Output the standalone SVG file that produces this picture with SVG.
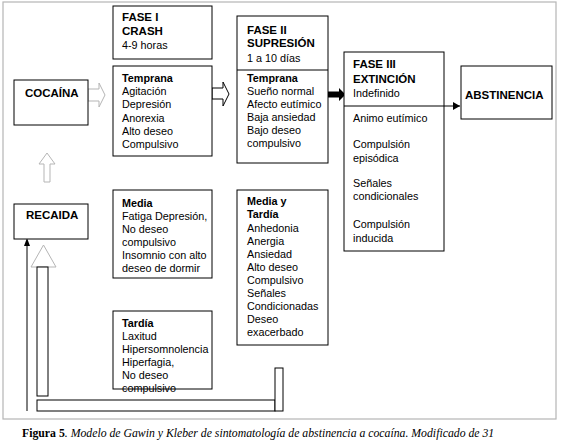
<svg xmlns="http://www.w3.org/2000/svg" width="561" height="445" viewBox="0 0 561 445">
<style>
.box{fill:#fff;stroke:#000;stroke-width:1}
.t{font-family:"Liberation Sans",Arial,sans-serif;font-size:10.8px;fill:#000}
.b{font-weight:bold}
.h{font-family:"Liberation Sans",Arial,sans-serif;font-size:11.5px;font-weight:bold;fill:#000}
.cap{font-family:"Liberation Serif","Times New Roman",serif;font-size:11.75px;fill:#000}
.ga{fill:#fff;stroke:#b5b5b5;stroke-width:1}
.ka{fill:#fff;stroke:#000;stroke-width:1}
</style>
<defs>
<marker id="ah" markerWidth="8" markerHeight="8" refX="7" refY="4" orient="auto" markerUnits="userSpaceOnUse">
<path d="M0,0 L7,4 L0,8 Z" fill="#000"/>
</marker>
</defs>
<rect x="3" y="2" width="553" height="417" fill="#fff" stroke="#b5b5b5" stroke-width="1.2"/>

<g id="connectors">
<polygon class="ga" points="88,89 99,89 99,83 105,95 99,107 99,101 88,101"/>
<polygon class="ka" points="212,88 223,88 223,82 229,94 223,106 223,99 212,99"/>
<polygon fill="#000" points="328,91.5 339,91.5 339,88 345.5,94.5 339,101 339,97.5 328,97.5"/>
<line x1="444" y1="106" x2="460" y2="106" stroke="#000" stroke-width="1" marker-end="url(#ah)"/>
<polygon class="ga" points="47,153 55,164 50,164 50,182 44,182 44,164 39,164"/>
<line x1="27" y1="411" x2="27" y2="241" stroke="#000" stroke-width="1"/>
<path d="M27,238 L30,246 L24,246 Z" fill="#000"/>
<polygon class="ga" points="43.5,245 56,267 31,267"/>
<rect class="ka" x="37" y="267" width="11" height="129"/>
<rect class="ka" x="37" y="400" width="238" height="11"/>
<rect class="ka" x="275" y="368" width="8" height="43"/>
</g>

<g id="cocaina">
<rect class="box" x="14" y="80" width="74" height="45"/>
<text class="h" x="25" y="97" font-size="11">COCAÍNA</text>
</g>

<g id="recaida">
<rect class="box" x="14" y="204" width="74" height="35"/>
<text class="h" x="26" y="219" font-size="11">RECAIDA</text>
</g>

<g id="fase1">
<rect class="box" x="113" y="6" width="99" height="53"/>
<text class="h" x="122" y="21">FASE I</text>
<text class="h" x="122" y="35">CRASH</text>
<text class="t" x="122" y="49" font-size="11.5">4-9 horas</text>
</g>

<g id="f1-temprana">
<rect class="box" x="113" y="66" width="99" height="90"/>
<text class="t" x="122" y="82"><tspan class="b">Temprana</tspan><tspan x="122" dy="13.2">Agitación</tspan><tspan x="122" dy="13.2">Depresión</tspan><tspan x="122" dy="13.2">Anorexia</tspan><tspan x="122" dy="13.2">Alto deseo</tspan><tspan x="122" dy="13.2">Compulsivo</tspan></text>
</g>

<g id="f1-media">
<rect class="box" x="113" y="190" width="99" height="88"/>
<text class="t" x="122" y="207"><tspan class="b">Media</tspan><tspan x="122" dy="13">Fatiga Depresión,</tspan><tspan x="122" dy="13">No deseo</tspan><tspan x="122" dy="13">compulsivo</tspan><tspan x="122" dy="13">Insomnio con alto</tspan><tspan x="122" dy="13">deseo de dormir</tspan></text>
</g>

<g id="f1-tardia">
<text class="t" x="122" y="327"><tspan class="b">Tardía</tspan><tspan x="122" dy="13">Laxitud</tspan><tspan x="122" dy="13">Hipersomnolencia</tspan><tspan x="122" dy="13">Hiperfagia,</tspan><tspan x="122" dy="13">No deseo</tspan><tspan x="122" dy="13">compulsivo</tspan></text>
<rect x="113" y="311" width="99" height="78" fill="none" stroke="#000" stroke-width="1"/>
</g>

<g id="fase2">
<rect class="box" x="237" y="16" width="91" height="147"/>
<line x1="237" y1="70" x2="328" y2="70" stroke="#000" stroke-width="1"/>
<text class="h" x="247" y="34">FASE II</text>
<text class="h" x="247" y="47">SUPRESIÓN</text>
<text class="t" x="247" y="62" font-size="11.5">1 a 10 días</text>
<text class="t" x="247" y="82"><tspan class="b">Temprana</tspan><tspan x="247" dy="13">Sueño normal</tspan><tspan x="247" dy="13">Afecto eutímico</tspan><tspan x="247" dy="13">Baja ansiedad</tspan><tspan x="247" dy="13">Bajo deseo</tspan><tspan x="247" dy="13">compulsivo</tspan></text>
</g>

<g id="f2-mediatardia">
<rect class="box" x="237" y="190" width="91" height="155"/>
<text class="t" x="247" y="205"><tspan class="b">Media y</tspan><tspan x="247" dy="12.5" class="b">Tardía</tspan><tspan x="247" dy="14.5">Anhedonia</tspan><tspan x="247" dy="13">Anergia</tspan><tspan x="247" dy="13">Ansiedad</tspan><tspan x="247" dy="13">Alto deseo</tspan><tspan x="247" dy="13">Compulsivo</tspan><tspan x="247" dy="13">Señales</tspan><tspan x="247" dy="13">Condicionadas</tspan><tspan x="247" dy="13">Deseo</tspan><tspan x="247" dy="13">exacerbado</tspan></text>
</g>

<g id="fase3">
<rect class="box" x="344" y="52" width="100" height="199"/>
<line x1="344" y1="106" x2="444" y2="106" stroke="#000" stroke-width="1"/>
<text class="h" x="353" y="68">FASE III</text>
<text class="h" x="353" y="83">EXTINCIÓN</text>
<text class="t" x="353" y="97" font-size="11.5">Indefinido</text>
<text class="t" x="353" y="122">Animo eutímico</text>
<text class="t" x="353" y="148">Compulsión<tspan x="353" dy="14">episódica</tspan></text>
<text class="t" x="353" y="187">Señales<tspan x="353" dy="13">condicionales</tspan></text>
<text class="t" x="353" y="228">Compulsión<tspan x="353" dy="14">inducida</tspan></text>
</g>

<g id="abstinencia">
<rect class="box" x="461" y="66" width="91" height="53"/>
<text class="h" x="465" y="99" font-size="11">ABSTINENCIA</text>
</g>

<text class="cap" x="22" y="437"><tspan font-weight="bold">Figura 5</tspan><tspan font-style="italic">. Modelo de Gawin y Kleber de sintomatología de abstinencia a cocaína. Modificado de 31</tspan></text>
</svg>
